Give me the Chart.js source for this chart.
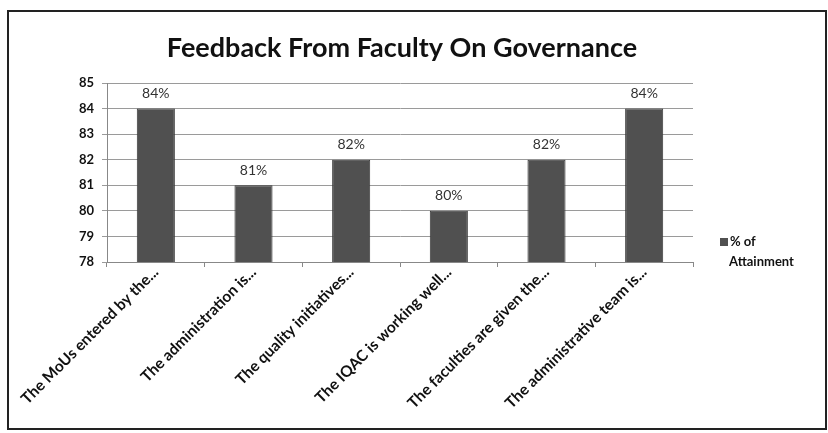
<!DOCTYPE html>
<html>
<head>
<meta charset="utf-8">
<script src="https://cdn.jsdelivr.net/npm/chart.js@4.4.0/dist/chart.umd.min.js"></script>
<style>
  body{margin:0;background:#fff;}
  #box{position:absolute;left:7px;top:10px;width:816px;height:416px;border:2px solid #222;}
  #myChart{display:block;}
</style>
</head>
<body>
<div id="box"><canvas id="myChart" width="816" height="416"></canvas></div>
<script>
// data
const questions=['The MoUs entered by the...','The administration is...','The quality initiatives...','The IQAC is working well...','The faculties are given the...','The administrative team is...']
const attainment=[84,81,82,80,82,84]
const seriesName=['% of','Attainment']
const yTicks=[78,79,80,81,82,83,84,85]
const chartTitle='Feedback From Faculty On Governance'

const barColor='#505050'
const fontName='Lato'

// title centred on the whole box
const boxTitle={
  id:'boxTitle',
  afterDraw(chart){
    const ctx=chart.ctx
    ctx.save()
    ctx.font='bold 27px '+fontName
    ctx.fillStyle='#111'
    ctx.textAlign='center'
    ctx.textBaseline='middle'
    ctx.fillText(chartTitle,chart.width/2-15,36)
    ctx.restore()
  }
}

// % labels over bars
const valueLabels={
  id:'valueLabels',
  afterDatasetsDraw(chart){
    const ctx=chart.ctx
    const meta=chart.getDatasetMeta(0)
    ctx.save()
    ctx.font='14px '+fontName
    ctx.fillStyle='#333'
    ctx.textAlign='center'
    ctx.textBaseline='bottom'
    meta.data.forEach((bar,i)=>{
      ctx.fillText(attainment[i]+'%',bar.x,bar.y-8)
    })
    ctx.restore()
  }
}

// legend on the right, two lines
const sideLegend={
  id:'sideLegend',
  afterDraw(chart){
    const ctx=chart.ctx
    const a=chart.chartArea
    const x=a.right+27, y=a.top+159
    ctx.save()
    ctx.fillStyle=barColor
    ctx.fillRect(x,y-4,8,8)
    ctx.fillStyle='#111'
    ctx.font='bold 13px '+fontName
    ctx.textBaseline='middle'
    ctx.fillText(seriesName[0],x+10,y)
    ctx.fillText(seriesName[1],x+9,y+20)
    ctx.restore()
  }
}

new Chart(document.getElementById('myChart'),{
  type:'bar',
  data:{
    labels:questions,
    datasets:[{
      label:seriesName.join(' '),
      data:attainment,
      backgroundColor:barColor,
      borderColor:'#3a3a3a',
      borderWidth:1,
      categoryPercentage:1,
      barPercentage:0.39
    }]
  },
  options:{
    responsive:false,
    animation:false,
    layout:{padding:{left:0,right:132,top:71,bottom:0}},
    plugins:{
      legend:{display:false},
      tooltip:{enabled:false},
      title:{display:false}
    },
    scales:{
      y:{
        min:78,max:85,
        afterBuildTicks(scale){scale.ticks=yTicks.map(v=>({value:v}))},
        afterFit(scale){scale.width=98},
        ticks:{color:'#111',font:{family:fontName,size:13,weight:'bold'},padding:8},
        grid:{color:'#9a9a9a',drawTicks:true,tickLength:5},
        border:{color:'#888'}
      },
      x:{
        afterFit(scale){scale.height=166},
        ticks:{color:'#111',font:{family:fontName,size:15.5,weight:'bold'},minRotation:45,maxRotation:45,autoSkip:false,padding:-4,labelOffset:0},
        grid:{display:true,drawOnChartArea:false,offset:true,tickLength:5,color:'#888'},
        border:{color:'#888'}
      }
    }
  },
  plugins:[boxTitle,valueLabels,sideLegend]
})
</script>
</body>
</html>
